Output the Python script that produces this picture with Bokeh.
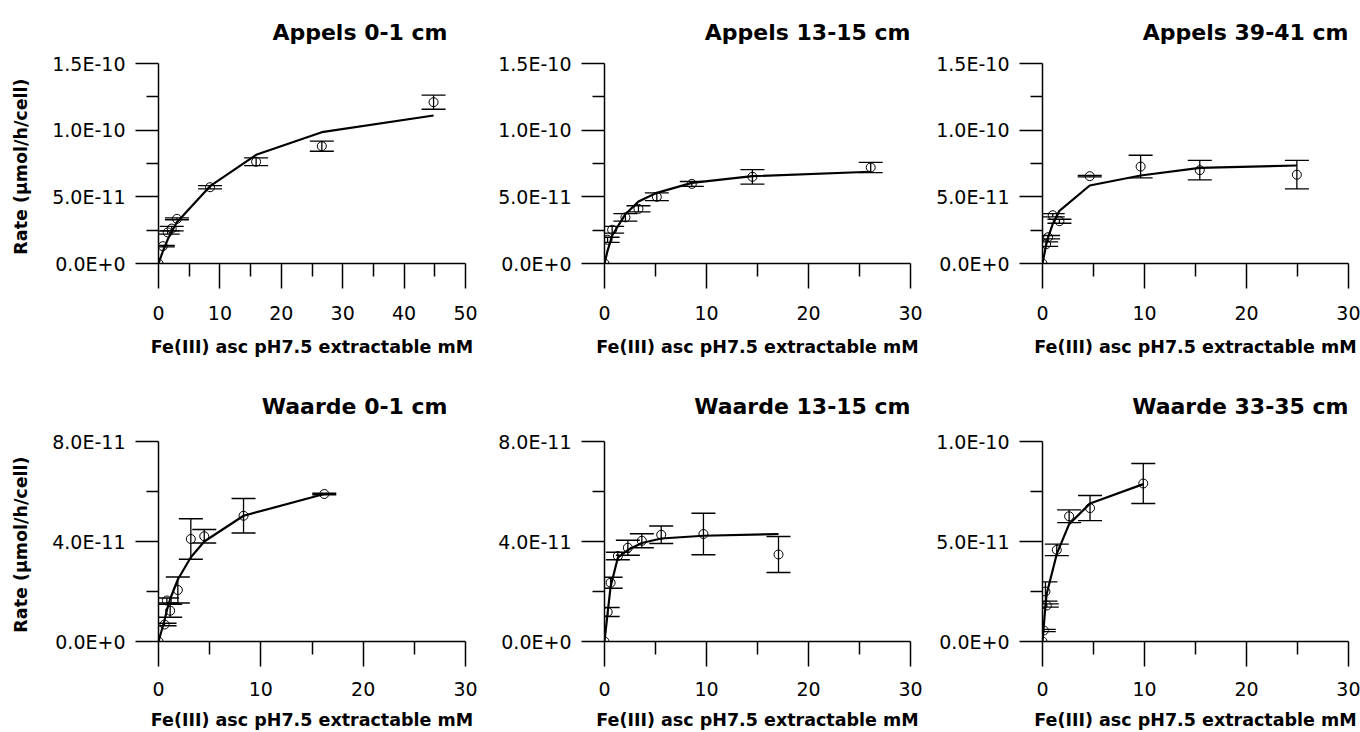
from bokeh.plotting import figure
from bokeh.layouts import column, row
from bokeh.models import (Range1d, FixedTicker, CustomJSTickFormatter, Whisker, TeeHead,
                          ColumnDataSource)
from bokeh.embed import file_html
from bokeh.resources import INLINE

FONT = "DejaVu Sans"

titles = ["Appels 0-1 cm", "Appels 13-15 cm", "Appels 39-41 cm",
          "Waarde 0-1 cm", "Waarde 13-15 cm", "Waarde 33-35 cm"]
x_label = "Fe(III) asc pH7.5 extractable mM"
y_label = "Rate  (\u00b5mol/h/cell)"

# ---- data: Fe(III) (mM), rate (umol/h/cell), std error, fitted curve ----
a1_x = [0, 0.7, 1.5, 2.15, 3.0, 8.4, 15.9, 26.6, 44.8]
a1_y = [0, 1.30e-11, 2.33e-11, 2.62e-11, 3.35e-11, 5.72e-11, 7.63e-11, 8.80e-11, 1.21e-10]
a1_e = [0, 0.05e-11, 0.12e-11, 0.17e-11, 0.07e-11, 0.12e-11, 0.29e-11, 0.38e-11, 0.53e-11]
a1_f = [0, 0.90e-11, 1.80e-11, 2.40e-11, 3.10e-11, 5.80e-11, 8.15e-11, 9.85e-11, 1.11e-10]

a2_x = [0, 0.3, 0.75, 2.05, 3.33, 5.13, 8.56, 14.5, 26.1]
a2_y = [0, 1.78e-11, 2.53e-11, 3.46e-11, 4.10e-11, 5.00e-11, 5.97e-11, 6.50e-11, 7.20e-11]
a2_e = [0, 0.19e-11, 0.25e-11, 0.28e-11, 0.23e-11, 0.29e-11, 0.18e-11, 0.54e-11, 0.39e-11]
a2_f = [0, 0.95e-11, 2.10e-11, 3.70e-11, 4.65e-11, 5.30e-11, 6.05e-11, 6.55e-11, 6.88e-11]

a3_x = [0, 0.36, 0.55, 1.0, 1.66, 4.63, 9.62, 15.42, 24.94]
a3_y = [0, 1.45e-11, 1.97e-11, 3.62e-11, 3.17e-11, 6.55e-11, 7.27e-11, 7.00e-11, 6.66e-11]
a3_e = [0, 0.17e-11, 0.13e-11, 0.12e-11, 0.15e-11, 0.05e-11, 0.85e-11, 0.73e-11, 1.07e-11]
a3_f = [0, 1.40e-11, 1.96e-11, 2.96e-11, 3.95e-11, 5.85e-11, 6.60e-11, 7.17e-11, 7.35e-11]

w1_x = [0, 0.59, 0.82, 1.14, 1.89, 3.16, 4.47, 8.31, 16.2]
w1_y = [0, 0.68e-11, 1.64e-11, 1.23e-11, 2.06e-11, 4.10e-11, 4.21e-11, 5.03e-11, 5.90e-11]
w1_e = [0, 0.05e-11, 0.10e-11, 0.26e-11, 0.52e-11, 0.81e-11, 0.27e-11, 0.69e-11, 0.03e-11]
w1_f = [0, 0.85e-11, 1.25e-11, 1.70e-11, 2.48e-11, 3.37e-11, 4.00e-11, 5.03e-11, 5.90e-11]

w2_x = [0, 0.31, 0.6, 1.31, 2.29, 3.66, 5.56, 9.7, 17.06]
w2_y = [0, 1.18e-11, 2.35e-11, 3.42e-11, 3.75e-11, 4.03e-11, 4.27e-11, 4.30e-11, 3.48e-11]
w2_e = [0, 0.18e-11, 0.22e-11, 0.15e-11, 0.30e-11, 0.28e-11, 0.35e-11, 0.83e-11, 0.72e-11]
w2_f = [0, 1.15e-11, 2.20e-11, 3.35e-11, 3.66e-11, 3.94e-11, 4.12e-11, 4.23e-11, 4.30e-11]

w3_x = [0, 0.13, 0.29, 0.42, 1.4, 2.61, 4.66, 9.88]
w3_y = [0, 0.55e-11, 2.50e-11, 1.80e-11, 4.58e-11, 6.26e-11, 6.67e-11, 7.90e-11]
w3_e = [0, 0.06e-11, 0.48e-11, 0.08e-11, 0.29e-11, 0.32e-11, 0.63e-11, 1.00e-11]
w3_f = [0, 0.80e-11, 1.80e-11, 2.40e-11, 4.38e-11, 5.87e-11, 6.90e-11, 7.87e-11]

# ---- axes ----
x50_ticks = [0, 10, 20, 30, 40, 50]
x50_minor = [5, 15, 25, 35, 45]
x50_labels = ["0", "10", "20", "30", "40", "50"]
x30_ticks = [0, 10, 20, 30]
x30_minor = [5, 15, 25]
x30_labels = ["0", "10", "20", "30"]

y15_ticks = [0, 5e-11, 1e-10, 1.5e-10]
y15_minor = [2.5e-11, 7.5e-11, 1.25e-10]
y15_labels = ["0.0E+0", "5.0E-11", "1.0E-10", "1.5E-10"]
y8_ticks = [0, 4e-11, 8e-11]
y8_minor = [2e-11, 6e-11]
y8_labels = ["0.0E+0", "4.0E-11", "8.0E-11"]
y10_ticks = [0, 5e-11, 1e-10]
y10_minor = [2.5e-11, 7.5e-11]
y10_labels = ["0.0E+0", "5.0E-11", "1.0E-10"]

FMT = """
let best = 0;
for (let i = 1; i < vals.length; i++) {
  if (Math.abs(vals[i] - tick) < Math.abs(vals[best] - tick)) best = i;
}
return labels[best];
"""


def panel(title, xs, ys, es, fs, xt, xm, xl, yt, ym, yl, width, height,
          bl, br, bt, bb, ylab, title_off, title_stand, tstand, lstand):
    p = figure(width=width, height=height, output_backend="svg", toolbar_location=None,
               x_range=Range1d(xt[0], xt[-1]), y_range=Range1d(yt[0], yt[-1]),
               min_border_left=bl, min_border_right=br, min_border_top=bt,
               min_border_bottom=bb)
    p.outline_line_color = None
    p.xgrid.visible = False
    p.ygrid.visible = False
    p.background_fill_color = "white"
    p.border_fill_color = "white"

    p.title.text = title
    p.title.align = "right"
    p.title.offset = title_off
    p.title.vertical_align = "top"
    p.title.standoff = title_stand
    p.title.text_font = FONT
    p.title.text_font_size = "22px"
    p.title.text_font_style = "bold"
    p.title.text_color = "black"

    p.line(xs, fs, line_color="black", line_width=2.2)

    bx = [x for x, e in zip(xs, es) if e > 0]
    up = [y + e for y, e in zip(ys, es) if e > 0]
    lo = [y - e for y, e in zip(ys, es) if e > 0]
    src = ColumnDataSource(dict(x=bx, upper=up, lower=lo))
    p.add_layout(Whisker(source=src, base="x", upper="upper", lower="lower",
                         dimension="height", line_color="black", line_width=1.3,
                         upper_head=TeeHead(size=24, line_color="black", line_width=1.3),
                         lower_head=TeeHead(size=24, line_color="black", line_width=1.3)))

    p.scatter(xs, ys, marker="circle", size=9, fill_color=None,
              line_color="black", line_width=1)

    xa = p.xaxis[0]
    xa.ticker = FixedTicker(ticks=xt, minor_ticks=xm)
    xa.formatter = CustomJSTickFormatter(args=dict(vals=xt, labels=xl), code=FMT)
    xa.major_tick_in = 0
    xa.major_tick_out = 25
    xa.minor_tick_in = 0
    xa.minor_tick_out = 13
    xa.major_label_standoff = tstand
    xa.axis_label = x_label
    xa.axis_label_standoff = lstand

    ya = p.yaxis[0]
    ya.ticker = FixedTicker(ticks=yt, minor_ticks=ym)
    ya.formatter = CustomJSTickFormatter(args=dict(vals=yt, labels=yl), code=FMT)
    ya.major_tick_in = 0
    ya.major_tick_out = 23
    ya.minor_tick_in = 0
    ya.minor_tick_out = 12
    ya.major_label_standoff = 10
    if ylab:
        ya.axis_label = y_label
        ya.axis_label_standoff = 18

    for ax in (xa, ya):
        ax.axis_line_width = 1.5
        ax.major_tick_line_width = 1.5
        ax.minor_tick_line_width = 1.5
        ax.axis_line_color = "black"
        ax.major_tick_line_color = "black"
        ax.minor_tick_line_color = "black"
        ax.major_label_text_font = FONT
        ax.major_label_text_font_size = "19px"
        ax.major_label_text_color = "black"
        ax.axis_label_text_font = FONT
        ax.axis_label_text_font_size = "17.5px"
        ax.axis_label_text_font_style = "bold"
        ax.axis_label_text_color = "black"
    return p


p1 = panel(titles[0], a1_x, a1_y, a1_e, a1_f, x50_ticks, x50_minor, x50_labels,
           y15_ticks, y15_minor, y15_labels, 480, 370, 158, 15, 63, 107, True, 18, 33, 17, 14)
p2 = panel(titles[1], a2_x, a2_y, a2_e, a2_f, x30_ticks, x30_minor, x30_labels,
           y15_ticks, y15_minor, y15_labels, 445, 370, 124, 15, 63, 107, False, 0, 33, 17, 14)
p3 = panel(titles[2], a3_x, a3_y, a3_e, a3_f, x30_ticks, x30_minor, x30_labels,
           y15_ticks, y15_minor, y15_labels, 435, 370, 117, 12, 63, 107, False, 0, 33, 17, 14)
p4 = panel(titles[3], w1_x, w1_y, w1_e, w1_f, x30_ticks, x30_minor, x30_labels,
           y8_ticks, y8_minor, y8_labels, 480, 362, 158, 15, 71, 91, True, 18, 41, 15, 11)
p5 = panel(titles[4], w2_x, w2_y, w2_e, w2_f, x30_ticks, x30_minor, x30_labels,
           y8_ticks, y8_minor, y8_labels, 445, 362, 124, 15, 71, 91, False, 0, 41, 15, 11)
p6 = panel(titles[5], w3_x, w3_y, w3_e, w3_f, x30_ticks, x30_minor, x30_labels,
           y10_ticks, y10_minor, y10_labels, 435, 362, 117, 12, 71, 91, False, 0, 41, 15, 11)

layout = column(row(p1, p2, p3), row(p4, p5, p6))
open("out.html", "w").write(file_html(layout, INLINE))
